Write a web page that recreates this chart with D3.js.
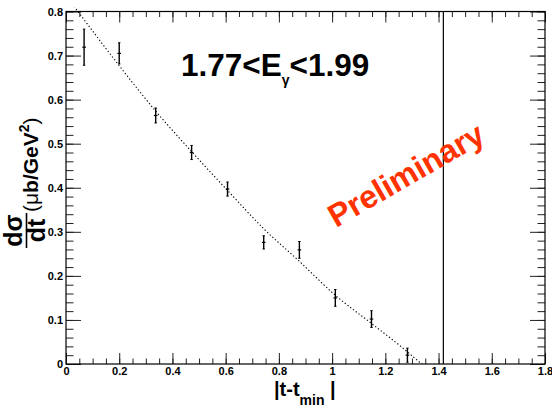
<!DOCTYPE html>
<html>
<head>
<meta charset="utf-8">
<script src="https://cdn.jsdelivr.net/npm/d3@7"></script>
<style>
  body { margin: 0; background: #fff; }
  text { font-family: "Liberation Sans", Helvetica, Arial, sans-serif; font-weight: bold; }
</style>
</head>
<body>
<div id="chart"></div>
<script>
// data
var tVals = [0.068, 0.200, 0.337, 0.472, 0.607, 0.743, 0.877, 1.012, 1.148, 1.283];
var xsecVals = [0.719, 0.705, 0.564, 0.480, 0.397, 0.276, 0.259, 0.150, 0.102, 0.020];
var xsecErrs = [0.041, 0.024, 0.017, 0.016, 0.016, 0.015, 0.019, 0.019, 0.019, 0.016];

// fitted curve (dotted)
var fitT = [0.03, 0.2, 0.337, 0.472, 0.607, 0.743, 0.877, 1.012, 1.148, 1.256, 1.337, 1.40];
var fitY = [0.812, 0.677, 0.574, 0.482, 0.394, 0.307, 0.233, 0.156, 0.092, 0.041, 0.0, -0.03];

var tLimit = 1.418;

var xTickVals = [0, 0.2, 0.4, 0.6, 0.8, 1, 1.2, 1.4, 1.6, 1.8];
var yTickVals = [0, 0.1, 0.2, 0.3, 0.4, 0.5, 0.6, 0.7, 0.8];

// svg area
var svgWidth = 552;
var svgHeight = 407;

var frame = { left: 66, right: 545, top: 11.5, bottom: 364 };

var svg = d3.select("#chart")
  .append("svg")
  .attr("width", svgWidth)
  .attr("height", svgHeight);

var xScale = d3.scaleLinear().domain([0, 1.8]).range([frame.left, frame.right]);
var yScale = d3.scaleLinear().domain([0, 0.8]).range([frame.bottom, frame.top]);

var fmt = d => String(+d.toFixed(1));

var xMinor = d3.range(0, 1.8001, 0.05);
var yMinor = d3.range(0, 0.8001, 0.02);

function styleAxis(g) {
  g.select(".domain").remove();
  g.selectAll(".tick line").attr("stroke", "#222").attr("stroke-width", 1);
  g.selectAll(".tick text").attr("fill", "#000").style("font-size", "11px")
    .style("font-family", "'Liberation Sans', Arial, sans-serif").style("font-weight", "bold");
}

// bottom axis (ticks point inward)
svg.append("g")
  .attr("transform", `translate(0, ${frame.bottom})`)
  .call(d3.axisBottom(xScale).tickValues(xMinor).tickSize(-5.5).tickSizeOuter(0).tickFormat(""))
  .call(styleAxis);
svg.append("g")
  .attr("transform", `translate(0, ${frame.bottom})`)
  .call(d3.axisBottom(xScale).tickValues(xTickVals).tickSize(-11).tickSizeOuter(0).tickPadding(3.5).tickFormat(fmt))
  .call(styleAxis);

// top axis mirror
svg.append("g")
  .attr("transform", `translate(0, ${frame.top})`)
  .call(d3.axisTop(xScale).tickValues(xMinor).tickSize(-5.5).tickSizeOuter(0).tickFormat(""))
  .call(styleAxis);
svg.append("g")
  .attr("transform", `translate(0, ${frame.top})`)
  .call(d3.axisTop(xScale).tickValues(xTickVals).tickSize(-11).tickSizeOuter(0).tickFormat(""))
  .call(styleAxis);

// left axis
svg.append("g")
  .attr("transform", `translate(${frame.left}, 0)`)
  .call(d3.axisLeft(yScale).tickValues(yMinor).tickSize(-7.5).tickSizeOuter(0).tickFormat(""))
  .call(styleAxis);
svg.append("g")
  .attr("transform", `translate(${frame.left}, 0)`)
  .call(d3.axisLeft(yScale).tickValues(yTickVals).tickSize(-15).tickSizeOuter(0).tickPadding(3).tickFormat(fmt))
  .call(styleAxis);

// right axis mirror
svg.append("g")
  .attr("transform", `translate(${frame.right}, 0)`)
  .call(d3.axisRight(yScale).tickValues(yMinor).tickSize(-7.5).tickSizeOuter(0).tickFormat(""))
  .call(styleAxis);
svg.append("g")
  .attr("transform", `translate(${frame.right}, 0)`)
  .call(d3.axisRight(yScale).tickValues(yTickVals).tickSize(-15).tickSizeOuter(0).tickFormat(""))
  .call(styleAxis);

// frame
svg.append("rect")
  .attr("x", frame.left)
  .attr("y", frame.top)
  .attr("width", frame.right - frame.left)
  .attr("height", frame.bottom - frame.top)
  .attr("fill", "none")
  .attr("stroke", "#000")
  .attr("stroke-width", 1.2);

// clip for curve
svg.append("clipPath").attr("id", "plotClip")
  .append("rect")
  .attr("x", frame.left)
  .attr("y", frame.top - 4)
  .attr("width", frame.right - frame.left)
  .attr("height", frame.bottom - frame.top + 4);

// fit curve
var fitLine = d3.line()
  .x((d, i) => xScale(fitT[i]))
  .y(d => yScale(d))
  .curve(d3.curveMonotoneX);

svg.append("path")
  .datum(fitY)
  .attr("clip-path", "url(#plotClip)")
  .attr("d", fitLine)
  .attr("fill", "none")
  .attr("stroke", "#000")
  .attr("stroke-width", 1.1)
  .attr("stroke-dasharray", "1.3,2.2");

// vertical line
svg.append("line")
  .attr("x1", xScale(tLimit)).attr("x2", xScale(tLimit))
  .attr("y1", frame.top).attr("y2", frame.bottom)
  .attr("stroke", "#000")
  .attr("stroke-width", 1.2);

// error bars
var pts = svg.append("g").selectAll("g")
  .data(tVals)
  .enter()
  .append("g");

pts.append("line")
  .attr("x1", d => xScale(d)).attr("x2", d => xScale(d))
  .attr("y1", (d, i) => yScale(xsecVals[i] + xsecErrs[i]))
  .attr("y2", (d, i) => yScale(Math.max(0, xsecVals[i] - xsecErrs[i])))
  .attr("stroke", "#000")
  .attr("stroke-width", 1.4);

pts.append("line")
  .attr("x1", d => xScale(d) - 1.8).attr("x2", d => xScale(d) + 1.8)
  .attr("y1", (d, i) => yScale(xsecVals[i])).attr("y2", (d, i) => yScale(xsecVals[i]))
  .attr("stroke", "#000")
  .attr("stroke-width", 1.2);

pts.append("line")
  .attr("x1", d => xScale(d) - 1.2).attr("x2", d => xScale(d) + 1.2)
  .attr("y1", (d, i) => yScale(xsecVals[i] + xsecErrs[i])).attr("y2", (d, i) => yScale(xsecVals[i] + xsecErrs[i]))
  .attr("stroke", "#000")
  .attr("stroke-width", 1);

pts.append("line")
  .attr("x1", d => xScale(d) - 1.2).attr("x2", d => xScale(d) + 1.2)
  .attr("y1", (d, i) => yScale(Math.max(0, xsecVals[i] - xsecErrs[i]))).attr("y2", (d, i) => yScale(Math.max(0, xsecVals[i] - xsecErrs[i])))
  .attr("stroke", "#000")
  .attr("stroke-width", 1);

// energy range title
var title = svg.append("text")
  .attr("x", 181)
  .attr("y", 76)
  .style("font-size", "31.5px");
title.append("tspan").text("1.77<E");
title.append("tspan").attr("dy", 9).style("font-size", "14px").text("γ");
title.append("tspan").attr("dy", -9).text("<1.99");

// Preliminary
svg.append("text")
  .attr("transform", "translate(336, 228) rotate(-30)")
  .attr("fill", "#ff3300")
  .style("font-size", "32px")
  .text("Preliminary");

// x axis title
var xt = svg.append("text")
  .attr("x", 274)
  .attr("y", 396)
  .style("font-size", "20px");
xt.append("tspan").text("|t-t");
xt.append("tspan").attr("dy", 9).style("font-size", "14px").text("min");
xt.append("tspan").attr("x", 330).attr("dy", -9).text("|");

// y axis title
var yt = svg.append("g")
  .attr("transform", "translate(0, 248) rotate(-90)");

yt.append("text")
  .attr("x", 17.5).attr("y", 22)
  .attr("text-anchor", "middle")
  .style("font-size", "25px")
  .text("dσ");
yt.append("line")
  .attr("x1", 0).attr("x2", 35)
  .attr("y1", 26.5).attr("y2", 26.5)
  .attr("stroke", "#000")
  .attr("stroke-width", 1.6);
yt.append("text")
  .attr("x", 17.5).attr("y", 45)
  .attr("text-anchor", "middle")
  .style("font-size", "25px")
  .text("dt");

var unit = yt.append("text")
  .attr("x", 36).attr("y", 38)
  .style("font-size", "21px");
unit.append("tspan").style("font-weight", "normal").text("(μ");
unit.append("tspan").text("b/GeV");
unit.append("tspan").attr("dy", -9).style("font-size", "14px").text("2");
unit.append("tspan").attr("dy", 9).style("font-weight", "normal").text(")");
</script>
</body>
</html>
